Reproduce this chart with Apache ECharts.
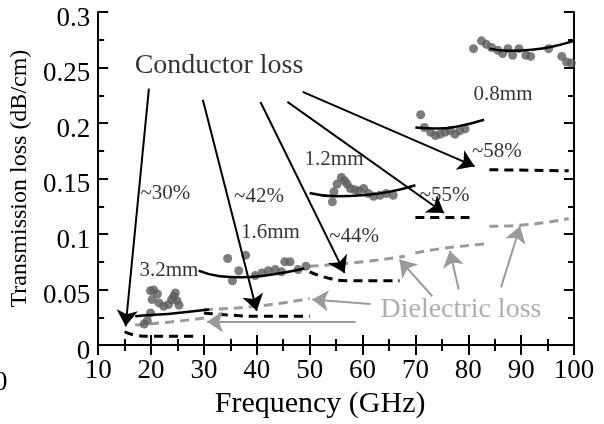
<!DOCTYPE html>
<html>
<head>
<meta charset="utf-8">
<script src="https://cdn.jsdelivr.net/npm/echarts@6/dist/echarts.min.js"></script>
<style>
html, body { margin: 0; padding: 0; background: #fff; }
#chart { width: 604px; height: 424px; }
</style>
</head>
<body>
<div id="chart"></div>
<script>
// measured points [GHz, dB/cm], one array per band
const meas1 = [[18.7, 0.019], [19.3, 0.022], [19.9, 0.029], [19.9, 0.049], [20.2, 0.041], [20.5, 0.0496], [21.2, 0.046], [21.5, 0.038], [22.4, 0.035], [23.3, 0.0365], [23.9, 0.041], [24.3, 0.044], [24.6, 0.047], [24.9, 0.04], [25.3, 0.036]];
const meas2 = [[34.5, 0.078], [35.4, 0.058], [36.6, 0.067], [37.9, 0.081], [39.7, 0.0626], [41, 0.065], [42.2, 0.067], [43.5, 0.068], [44.7, 0.066], [45.3, 0.075], [46.3, 0.075], [47.8, 0.068], [49.3, 0.071]];
const meas3 = [[54.3, 0.129], [54.6, 0.138], [55.2, 0.145], [56, 0.151], [56.6, 0.148], [57.1, 0.145], [57.7, 0.141], [58.5, 0.14], [59.3, 0.139], [60.2, 0.141], [61.1, 0.1365], [62.1, 0.134], [63.3, 0.135], [64.5, 0.1365], [65.8, 0.135]];
const meas4 = [[71, 0.2075], [71.7, 0.196], [72.9, 0.1916], [73.8, 0.1887], [74.7, 0.19], [75.6, 0.1916], [76.6, 0.193], [77.5, 0.19], [78.4, 0.193], [79.4, 0.1947]];
const meas5 = [[81, 0.267], [82.5, 0.274], [83.4, 0.271], [84.4, 0.268], [85.6, 0.2655], [86.5, 0.2626], [87.5, 0.267], [88.4, 0.261], [89.6, 0.267], [90.9, 0.261], [91.8, 0.26], [95.2, 0.267], [97.7, 0.26], [98.6, 0.255], [99.5, 0.254]];

// total loss fits (solid)
const fit1 = [[17, 0.026], [20, 0.027], [25, 0.029], [31, 0.032]];
const fit2 = [[29, 0.067], [33, 0.062], [37, 0.061], [42, 0.063], [46, 0.066], [49, 0.069]];
const fit3 = [[50, 0.137], [55, 0.134], [60, 0.135], [65, 0.138], [70, 0.144]];
const fit4 = [[70, 0.196], [74, 0.195], [78, 0.197], [83, 0.203]];
const fit5 = [[84, 0.267], [88, 0.265], [92, 0.266], [96, 0.269], [100, 0.274]];

// conductor loss (black dashed)
const cond1 = [[15, 0.012], [17, 0.009], [20, 0.008], [29, 0.008]];
const cond2 = [[30, 0.029], [35, 0.027], [40, 0.026], [50, 0.026]];
const cond3 = [[50, 0.066], [53, 0.061], [57, 0.058], [67, 0.058]];
const cond4 = [[70, 0.115], [81, 0.115]];
const cond5 = [[84, 0.158], [99, 0.157]];

// dielectric loss (gray dashed)
const diel1 = [[17, 0.018], [24, 0.021], [31, 0.025]];
const diel2 = [[30, 0.032], [40, 0.035], [50, 0.042]];
const diel3 = [[50, 0.071], [60, 0.075], [68, 0.08]];
const diel4 = [[70, 0.083], [75, 0.087], [83, 0.091]];
const diel5 = [[84, 0.107], [90, 0.108], [99, 0.114]];

// arrows: [x0, y0, x1, y1]
const condArrows = [[19.6, 0.231, 15.2, 0.017], [29.8, 0.221, 40, 0.031], [40.7, 0.219, 56.6, 0.065], [45.8, 0.219, 75.4, 0.119], [48.7, 0.228, 81.2, 0.161]];
const dielArrows = [[58.7, 0.021, 30.6, 0.021], [61.5, 0.037, 50.5, 0.041], [73.2, 0.044, 67, 0.077], [78.2, 0.05, 76.5, 0.085], [86.2, 0.052, 89.8, 0.107]];

// annotations
const noteTexts = ['Conductor loss', '3.2mm', '1.6mm', '1.2mm', '0.8mm', '~30%', '~42%', '~44%', '~55%', '~58%', 'Dielectric loss'];
const notePos = [[16.9, 0.2513], [17.8, 0.067], [37, 0.1017], [49.05, 0.167], [81, 0.226], [18, 0.1365], [35.7, 0.134], [53.7, 0.0974], [70.8, 0.1348], [80.7, 0.174], [63.4, 0.0322]];

const xTicks = [10, 100, 10];
const yTicks = [0, 0.3, 0.05];

const serif = 'Liberation Serif';
const gray = '#9a9a9a';

const chart = echarts.init(document.getElementById('chart'));

function lineSeries(data, color, dashed, width, smooth) {
	return {
		type: 'line',
		data: data,
		showSymbol: false,
		smooth: smooth,
		silent: true,
		z: dashed ? 3 : 5,
		lineStyle: { color: color, width: width, type: dashed ? [9, 6] : 'solid' },
	};
}

function arrowSeries(list, color) {
	return {
		type: 'lines',
		coordinateSystem: 'cartesian2d',
		symbol: ['none', 'arrow'],
		symbolSize: [12, 16],
		z: 6,
		lineStyle: { color: color, width: 2, opacity: 1 },
		data: list.map(a => ({ coords: [[a[0], a[1]], [a[2], a[3]]] })),
	};
}

const axisCommon = {
	type: 'value',
	axisLine: { show: true, lineStyle: { color: '#000', width: 2 } },
	axisTick: { show: true, inside: true, length: 10, lineStyle: { color: '#000', width: 2 } },
	minorTick: { show: true, splitNumber: 2, length: 6, lineStyle: { color: '#000', width: 2 } },
	splitLine: { show: false },
};

const series = [];
[meas1, meas2, meas3, meas4, meas5].forEach(m => {
	series.push({ type: 'scatter', data: m, symbolSize: 9, itemStyle: { color: '#5c5c5c' }, z: 4, silent: true });
});
[fit1, fit2, fit3, fit4, fit5].forEach(d => series.push(lineSeries(d, '#000', false, 2.5, true)));
[cond1, cond2, cond3, cond4, cond5].forEach(d => series.push(lineSeries(d, '#000', true, 3, true)));
[diel1, diel2, diel3, diel4, diel5].forEach(d => series.push(lineSeries(d, gray, true, 3, true)));
series.push(arrowSeries(condArrows, '#000'));
series.push(arrowSeries(dielArrows, gray));
series.push({
	type: 'scatter',
	symbolSize: 0,
	silent: true,
	z: 7,
	data: noteTexts.map((t, i) => {
		const big = t.indexOf('loss') >= 0;
		return {
			name: t,
			value: notePos[i],
			label: {
				fontSize: big ? 28 : 21,
				color: t === 'Dielectric loss' ? gray : '#000',
			},
		};
	}),
	label: {
		show: true,
		position: 'inside',
		align: 'left',
		verticalAlign: 'middle',
		formatter: '{b}',
		fontFamily: serif,
	},
});

chart.setOption({
	animation: false,
	backgroundColor: '#fff',
	grid: { left: 90, right: 30, top: 12, bottom: 67 },
	xAxis: [
		Object.assign({}, axisCommon, {
			min: xTicks[0], max: xTicks[1], interval: xTicks[2],
			name: 'Frequency (GHz)',
			nameLocation: 'middle',
			nameGap: 30,
			nameTextStyle: { fontFamily: serif, fontSize: 30, color: '#000', padding: [0, 32, 0, 0] },
			axisLabel: { fontFamily: serif, fontSize: 27, color: '#000', margin: 12 },
		}),
		Object.assign({}, axisCommon, {
			position: 'top',
			min: xTicks[0], max: xTicks[1], interval: xTicks[2],
			axisLabel: { show: false },
		}),
	],
	yAxis: [
		Object.assign({}, axisCommon, {
			min: yTicks[0], max: yTicks[1], interval: yTicks[2],
			name: 'Transmission loss (dB/cm)',
			nameLocation: 'middle',
			nameGap: 56,
			nameTextStyle: { fontFamily: serif, fontSize: 24, color: '#000' },
			axisLabel: {
				margin: 8,
				formatter: v => '{t|' + String(+v.toFixed(2)) + '}',
				rich: {
					t: { fontFamily: serif, fontSize: 27, color: '#000', padding: [13, 0, 0, 0] },
				},
			},
		}),
		Object.assign({}, axisCommon, {
			position: 'right',
			min: yTicks[0], max: yTicks[1], interval: yTicks[2],
			axisLabel: { show: false },
		}),
	],
	graphic: [{
		type: 'text',
		left: -6,
		top: 369,
		style: { text: '0', font: '27px "Liberation Serif"', fill: '#000' },
	}],
	series: series,
});
</script>
</body>
</html>
